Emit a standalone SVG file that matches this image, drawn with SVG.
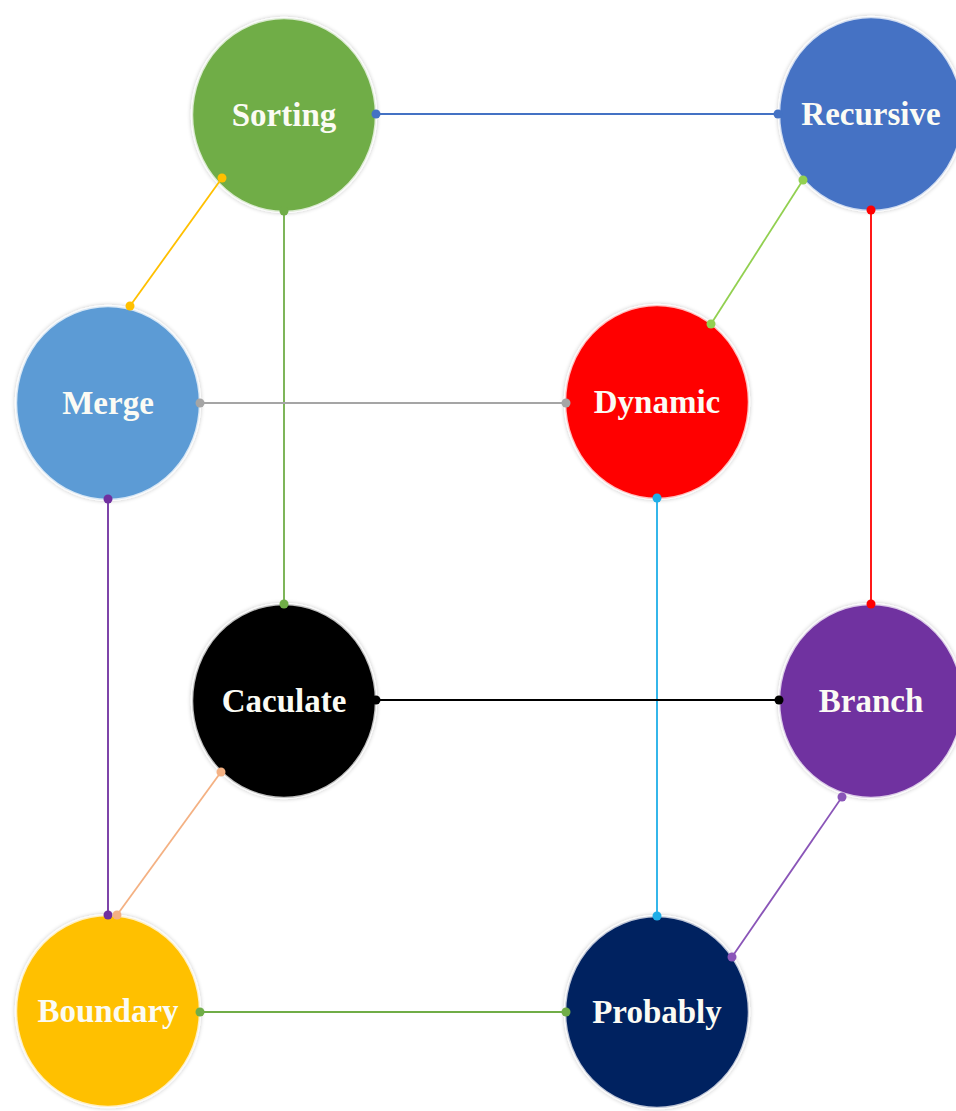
<svg xmlns="http://www.w3.org/2000/svg" width="956" height="1111" viewBox="0 0 956 1111">
  <style>
    .node ellipse { stroke: #ffffff; stroke-opacity: 0.75; stroke-width: 2.5; filter: url(#halo); }
    .node text { font-family: "Liberation Serif", "Times New Roman", serif; font-weight: bold; font-size: 33px; fill: #fbfbf4; text-anchor: middle; }
    .edge { fill: none; stroke-width: 1.8; }
  </style>
  <defs>
    <filter id="halo" x="-20%" y="-20%" width="140%" height="140%">
      <feGaussianBlur in="SourceAlpha" stdDeviation="2"/>
      <feComponentTransfer><feFuncA type="linear" slope="0.25"/></feComponentTransfer>
      <feMerge><feMergeNode/><feMergeNode in="SourceGraphic"/></feMerge>
    </filter>
  </defs>
  <rect width="956" height="1111" fill="#ffffff"/>

  <!-- nodes -->
  <g id="node-sorting" class="node">
    <ellipse cx="284" cy="115" rx="92" ry="97" fill="#70AD47"/>
    <text x="284" y="126">Sorting</text>
  </g>
  <g id="node-recursive" class="node">
    <ellipse cx="871" cy="114" rx="92" ry="97" fill="#4472C4"/>
    <text x="871" y="125">Recursive</text>
  </g>
  <g id="node-merge" class="node">
    <ellipse cx="108" cy="403" rx="92" ry="97" fill="#5B9BD5"/>
    <text x="108" y="414">Merge</text>
  </g>
  <g id="node-dynamic" class="node">
    <ellipse cx="657" cy="402" rx="92" ry="97" fill="#FF0000"/>
    <text x="657" y="413">Dynamic</text>
  </g>
  <g id="node-caculate" class="node">
    <ellipse cx="284" cy="701" rx="92" ry="97" fill="#000000"/>
    <text x="284" y="712">Caculate</text>
  </g>
  <g id="node-branch" class="node">
    <ellipse cx="871" cy="701" rx="92" ry="97" fill="#7030A0"/>
    <text x="871" y="712">Branch</text>
  </g>
  <g id="node-boundary" class="node">
    <ellipse cx="108" cy="1011" rx="92" ry="96" fill="#FFC000"/>
    <text x="108" y="1022">Boundary</text>
  </g>
  <g id="node-probably" class="node">
    <ellipse cx="657" cy="1012" rx="92" ry="96" fill="#002060"/>
    <text x="657" y="1023">Probably</text>
  </g>

  <!-- connectors with round end dots -->
  <g id="connectors">
    <g stroke="#4472C4" fill="#4472C4">
      <line class="edge" x1="376" y1="114" x2="778" y2="114"/>
      <circle cx="376" cy="114" r="4.5" stroke="none"/><circle cx="778" cy="114" r="4.5" stroke="none"/>
    </g>
    <g stroke="#FFC000" fill="#FFC000">
      <line class="edge" x1="222" y1="178" x2="130" y2="306"/>
      <circle cx="222" cy="178" r="4.5" stroke="none"/><circle cx="130" cy="306" r="4.5" stroke="none"/>
    </g>
    <g stroke="#70AD47" fill="#70AD47">
      <line class="edge" x1="284" y1="211" x2="284" y2="604"/>
      <circle cx="284" cy="211" r="4.5" stroke="none"/><circle cx="284" cy="604" r="4.5" stroke="none"/>
    </g>
    <g stroke="#92D050" fill="#92D050">
      <line class="edge" x1="803" y1="180" x2="711" y2="324"/>
      <circle cx="803" cy="180" r="4.5" stroke="none"/><circle cx="711" cy="324" r="4.5" stroke="none"/>
    </g>
    <g stroke="#FF0000" fill="#FF0000">
      <line class="edge" x1="871" y1="210" x2="871" y2="604"/>
      <circle cx="871" cy="210" r="4.5" stroke="none"/><circle cx="871" cy="604" r="4.5" stroke="none"/>
    </g>
    <g stroke="#A5A5A5" fill="#A5A5A5">
      <line class="edge" x1="200" y1="403" x2="566" y2="403"/>
      <circle cx="200" cy="403" r="4.5" stroke="none"/><circle cx="566" cy="403" r="4.5" stroke="none"/>
    </g>
    <g stroke="#7030A0" fill="#7030A0">
      <line class="edge" x1="108" y1="499" x2="108" y2="915"/>
      <circle cx="108" cy="499" r="4.5" stroke="none"/><circle cx="108" cy="915" r="4.5" stroke="none"/>
    </g>
    <g stroke="#1FAEE8" fill="#1FAEE8">
      <line class="edge" x1="657" y1="498" x2="657" y2="916"/>
      <circle cx="657" cy="498" r="4.5" stroke="none"/><circle cx="657" cy="916" r="4.5" stroke="none"/>
    </g>
    <g stroke="#000000" fill="#000000">
      <line class="edge" x1="376" y1="700" x2="779" y2="700"/>
      <circle cx="376" cy="700" r="4.5" stroke="none"/><circle cx="779" cy="700" r="4.5" stroke="none"/>
    </g>
    <g stroke="#F4B183" fill="#F4B183">
      <line class="edge" x1="221" y1="772" x2="117" y2="915"/>
      <circle cx="221" cy="772" r="4.5" stroke="none"/><circle cx="117" cy="915" r="4.5" stroke="none"/>
    </g>
    <g stroke="#8A55B8" fill="#8A55B8">
      <line class="edge" x1="842" y1="797" x2="732" y2="957"/>
      <circle cx="842" cy="797" r="4.5" stroke="none"/><circle cx="732" cy="957" r="4.5" stroke="none"/>
    </g>
    <g stroke="#70AD47" fill="#70AD47">
      <line class="edge" x1="200" y1="1012" x2="566" y2="1012"/>
      <circle cx="200" cy="1012" r="4.5" stroke="none"/><circle cx="566" cy="1012" r="4.5" stroke="none"/>
    </g>
  </g>
</svg>
